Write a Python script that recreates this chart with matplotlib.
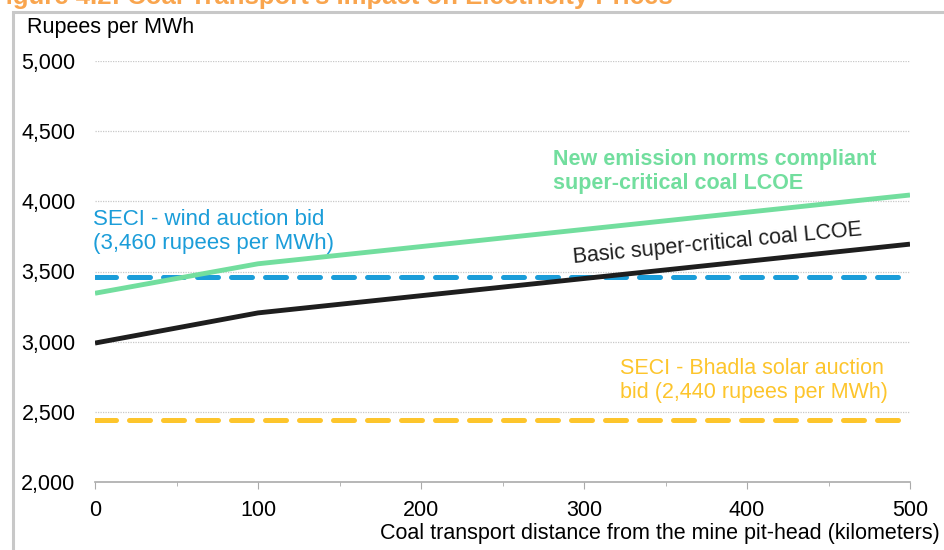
import matplotlib
matplotlib.use("Agg")
import matplotlib.pyplot as plt
from matplotlib.patches import Rectangle
from matplotlib.ticker import MultipleLocator, FuncFormatter

plt.rcParams['font.family'] = ['Liberation Sans', 'DejaVu Sans']

# Data
distance_km = [0, 100, 500]
basic_lcoe = [2990, 3205, 3695]
emission_lcoe = [3345, 3555, 4045]
wind_bid = 3460
solar_bid = 2440
x_ticks = [0, 100, 200, 300, 400, 500]
y_ticks = [2000, 2500, 3000, 3500, 4000, 4500, 5000]

c_green = '#72DE9E'
c_black = '#1E1E1E'
c_blue = '#1B9DD9'
c_yellow = '#FDC52C'
c_title = '#F9A54E'

fig = plt.figure(figsize=(9.45, 5.5), dpi=100)
ax = fig.add_axes([95/945, 1-482/550, (910-95)/945, (482-61)/550])

# frame box
fig.patches.append(Rectangle((13/945, -0.1), 1.2, 1-12/550+0.1, transform=fig.transFigure,
                             fill=False, edgecolor='#C8C8C8', linewidth=2.2, zorder=0))
fig.text(-10/945, 1-4/550, "Figure 4.2: Coal Transport's Impact on Electricity Prices",
         color=c_title, fontsize=18.5, fontweight='bold', ha='left', va='baseline')

ax.plot(distance_km, emission_lcoe, color=c_green, lw=3.5, solid_capstyle='butt', zorder=3)
ax.plot(distance_km, basic_lcoe, color=c_black, lw=3.5, solid_capstyle='butt', zorder=3)
ax.plot([distance_km[0], distance_km[-1]], [wind_bid, wind_bid], color=c_blue, lw=3.6,
        dashes=(4.2, 2.6), dash_capstyle='round', zorder=2)
ax.plot([distance_km[0], distance_km[-1]], [solar_bid, solar_bid], color=c_yellow, lw=3.6,
        dashes=(4.2, 2.6), dash_capstyle='round', zorder=2)

ax.set_xlim(0, 500)
ax.set_ylim(2000, 5000)
ax.set_xticks(x_ticks)
ax.xaxis.set_minor_locator(MultipleLocator(50))
ax.set_yticks(y_ticks)
ax.yaxis.set_major_formatter(FuncFormatter(lambda v, p: f"{int(v):,}"))
for y in y_ticks[1:]:
    ax.axhline(y, color='#C8C8C8', lw=0.9, ls=(0, (1, 1)), zorder=1)

for s in ['top', 'right', 'left']:
    ax.spines[s].set_visible(False)
ax.spines['bottom'].set_color('#AAAAAA')
ax.spines['bottom'].set_linewidth(1.2)
ax.tick_params(axis='y', length=0, pad=14, labelsize=15.5)
ax.tick_params(axis='x', which='major', length=5, color='#AAAAAA', pad=8, labelsize=15.5)
ax.tick_params(axis='x', which='minor', length=3, color='#AAAAAA')

fig.text(27/945, 1-28/550, "Rupees per MWh", fontsize=15.5, ha='left', va='center')
fig.text(940/945, 1-534/550, "Coal transport distance from the mine pit-head (kilometers)",
         fontsize=15.5, ha='right', va='center')

ax.text(-1.5, 3785, "SECI - wind auction bid\n(3,460 rupees per MWh)", color=c_blue,
        fontsize=16, ha='left', va='center', linespacing=1.2)
ax.text(281, 4210, "New emission norms compliant\nsuper-critical coal LCOE", color=c_green,
        fontsize=15.5, fontweight='bold', ha='left', va='center', linespacing=1.2)
ax.text(382, 3700, "Basic super-critical coal LCOE", color=c_black, fontsize=15.5,
        ha='center', va='center', rotation=5.5)
ax.text(322, 2725, "SECI - Bhadla solar auction\nbid (2,440 rupees per MWh)", color=c_yellow,
        fontsize=15.5, ha='left', va='center', linespacing=1.2)

fig.savefig("out.png", dpi=100)
